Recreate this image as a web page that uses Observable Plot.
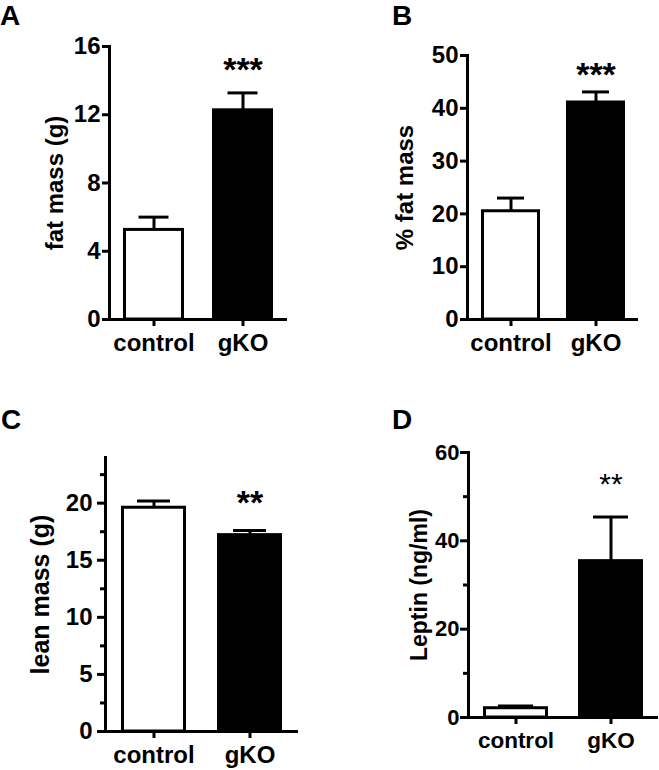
<!DOCTYPE html>
<html><head><meta charset="utf-8">
<script src="https://cdn.jsdelivr.net/npm/d3@7"></script>
<script src="https://cdn.jsdelivr.net/npm/@observablehq/plot@0.6"></script>
<style>
body{margin:0;background:#fff;}
#fig{position:relative;width:659px;height:770px;overflow:hidden;font-family:"Liberation Sans",Arial,sans-serif;color:#000;}
.panel{position:absolute;}
.letter{position:absolute;font-weight:bold;font-size:28px;line-height:normal;}
</style></head><body><div id="fig"></div>
<script>
// ---- data ----
const groups = ["control", "gKO"];
const fills = ["white", "black"];

const fatMass = [5.25, 12.26];
const fatMassSem = [0.75, 1.02];
const fatMassSig = ["", "***"];
const fatMassTicks = [0, 4, 8, 12, 16];

const pctFat = [20.5, 41.1];
const pctFatSem = [2.5, 2.0];
const pctFatSig = ["", "***"];
const pctFatTicks = [0, 10, 20, 30, 40, 50];

const leanMass = [19.6, 17.2];
const leanMassSem = [0.6, 0.4];
const leanMassSig = ["", "**"];
const leanMassTicks = [0, 5, 10, 15, 20];
const leanMassMinor = [2.5, 7.5, 12.5, 17.5, 22.5];

const leptin = [2.1, 35.4];
const leptinSem = [0.5, 10.0];
const leptinSig = ["", "**"];
const leptinTicks = [0, 20, 40, 60];
const leptinMinor = [10, 30, 50];

const fig = document.getElementById("fig");

function makePanel(cfg) {
  const data = groups.map((g, i) => ({
    group: g, mean: cfg.means[i], top: cfg.means[i] + cfg.sems[i], fill: fills[i], sig: cfg.sig[i]
  }));
  const marks = [
    Plot.barY(data, {x: "group", y: "mean", fill: "fill", stroke: "black", strokeWidth: 3, insetLeft: 1.5, insetRight: 1.5}),
    Plot.ruleX(data, {x: "group", y1: "mean", y2: "top", stroke: "black", strokeWidth: 3}),
    Plot.tickY(data, {x: "group", y: "top", stroke: "black", strokeWidth: 3, insetLeft: cfg.cap, insetRight: cfg.cap}),
    Plot.ruleY([0], {stroke: "black", strokeWidth: 3}),
    Plot.frame({anchor: "left", stroke: "black", strokeWidth: 3}),
    Plot.axisY({ticks: cfg.ticks, tickSize: cfg.tickSize, tickPadding: cfg.tickPad, strokeWidth: 3, label: null, fontSize: cfg.yfs, fontWeight: "bold"}),
    Plot.axisX({tickSize: 7, tickPadding: cfg.xPad, strokeWidth: 3, label: null, fontSize: cfg.xfs, fontWeight: "bold"}),
    Plot.text([cfg.label], {frameAnchor: "left", textAnchor: "middle", rotate: -90, dx: cfg.labelDx, fontSize: cfg.lfs, fontWeight: "bold"}),
    Plot.text(data, {x: "group", y: "top", text: "sig", dy: cfg.starDy, fontSize: cfg.starFs, fontWeight: cfg.starWeight})
  ];
  if (cfg.minor) {
    marks.push(Plot.axisY({ticks: cfg.minor, tickSize: 5, tickFormat: () => "", strokeWidth: 3, label: null}));
  }
  const svg = Plot.plot({
    width: cfg.width, height: cfg.height,
    marginLeft: cfg.ml, marginRight: cfg.mr, marginTop: cfg.mt, marginBottom: cfg.mb,
    x: {domain: groups, paddingInner: cfg.pi, paddingOuter: cfg.pi / 2},
    y: {domain: cfg.yDomain},
    color: {type: "identity"},
    style: {fontFamily: '"Liberation Sans", Arial, sans-serif', fontSize: "24px", color: "black", background: "transparent", overflow: "visible"},
    marks
  });
  svg.classList.add("panel");
  svg.style.left = cfg.left + "px";
  svg.style.top = cfg.top + "px";
  fig.appendChild(svg);
  const L = document.createElement("div");
  L.className = "letter";
  L.textContent = cfg.letter;
  L.style.left = cfg.letterX + "px";
  L.style.top = cfg.letterY + "px";
  fig.appendChild(L);
}

makePanel({
  letter: "A", letterX: 0, letterY: 0,
  means: fatMass, sems: fatMassSem, sig: fatMassSig, ticks: fatMassTicks, yDomain: [0, 16],
  label: "fat mass (g)", labelDx: -54, lfs: 24,
  left: 0, top: 0, width: 330, height: 370, ml: 109, mr: 43, mt: 46, mb: 51, pi: 0.31,
  cap: 15.5, tickSize: 7, tickPad: 2, xPad: 7, xfs: 24, yfs: 24,
  starDy: -23, starFs: 34, starWeight: "bold"
});
makePanel({
  letter: "B", letterX: 392, letterY: 0,
  means: pctFat, sems: pctFatSem, sig: pctFatSig, ticks: pctFatTicks, yDomain: [0, 50],
  label: "% fat mass", labelDx: -62, lfs: 24,
  left: 330, top: 0, width: 329, height: 370, ml: 137, mr: 21, mt: 55, mb: 51, pi: 0.31,
  cap: 16, tickSize: 7, tickPad: 2, xPad: 7, xfs: 24, yfs: 24,
  starDy: -17, starFs: 34, starWeight: "bold"
});
makePanel({
  letter: "C", letterX: 1, letterY: 404,
  means: leanMass, sems: leanMassSem, sig: leanMassSig, ticks: leanMassTicks, minor: leanMassMinor, yDomain: [0, 24],
  label: "lean mass (g)", labelDx: -65, lfs: 25,
  left: 0, top: 380, width: 330, height: 390, ml: 105, mr: 32, mt: 77, mb: 39, pi: 0.32,
  cap: 16, tickSize: 8, tickPad: 5, xPad: 7, xfs: 24, yfs: 24,
  starDy: -27, starFs: 34, starWeight: "bold"
});
makePanel({
  letter: "D", letterX: 392, letterY: 404,
  means: leptin, sems: leptinSem, sig: leptinSig, ticks: leptinTicks, minor: leptinMinor, yDomain: [0, 60],
  label: "Leptin (ng/ml)", labelDx: -49, lfs: 23,
  left: 330, top: 380, width: 329, height: 390, ml: 138, mr: 1, mt: 72, mb: 53, pi: 0.32,
  cap: 15, tickSize: 8, tickPad: 1, xPad: 8, xfs: 22.5, yfs: 22,
  starDy: -33, starFs: 30, starWeight: "normal"
});
</script>
</body></html>
